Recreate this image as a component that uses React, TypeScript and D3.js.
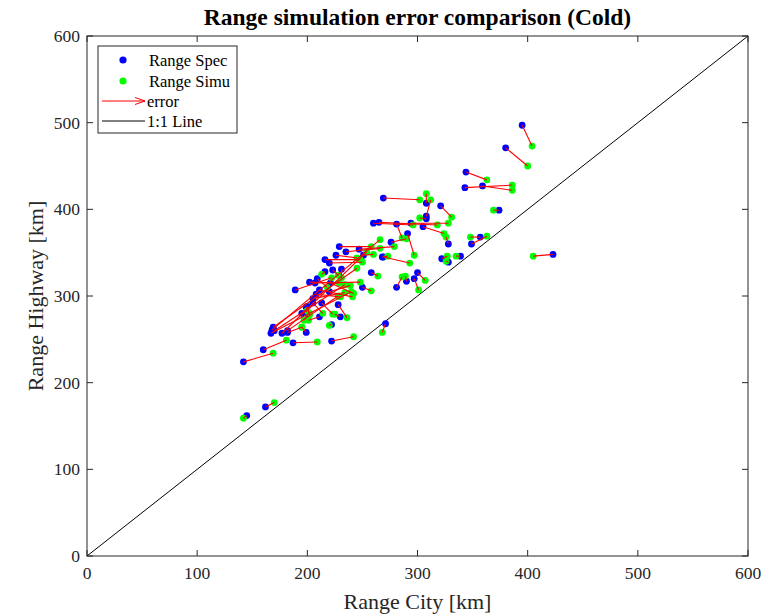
import React from 'react';
import * as d3 from 'd3';

// spec (blue) -> simu (green), km
const specCity = [395, 380, 344, 343, 359, 374, 321, 269, 308, 308, 308, 260, 265, 294, 281, 305, 328, 291, 276, 357, 349, 423, 322, 328, 339, 269, 300, 290, 281, 297, 250, 258, 229, 235, 247, 251, 226, 268, 216, 220, 223, 231, 216, 202, 207, 221, 209, 211, 208, 205, 220, 189, 199, 205, 213, 228, 195, 211, 230, 199, 222, 200, 201, 167, 169, 170, 177, 182, 168, 160, 142, 187, 222, 162, 145, 271, 182];
const specHwy = [497, 471, 443, 425, 427, 399, 404, 413, 407, 392, 389, 384, 385, 384, 383, 380, 360, 372, 362, 368, 360, 348, 343, 339, 346, 345, 327, 317, 310, 320, 310, 327, 357, 351, 354, 347, 347, 345, 342, 338, 330, 331, 328, 316, 315, 315, 320, 307, 302, 297, 305, 307, 287, 292, 292, 290, 280, 276, 276, 258, 267, 288, 278, 257, 264, 260, 257, 260, 261, 238, 224, 246, 248, 172, 162, 268, 258];
const simuCity = [404, 400, 363, 386, 386, 369, 331, 302, 308, 312, 302, 296, 318, 328, 286, 324, 326, 297, 290, 348, 363, 405, 327, 326, 335, 293, 307, 289, 286, 301, 258, 264, 258, 266, 279, 260, 245, 273, 248, 250, 228, 231, 213, 229, 248, 242, 218, 241, 230, 234, 239, 222, 202, 214, 223, 236, 200, 201, 225, 195, 220, 202, 197, 240, 245, 234, 254, 228, 266, 181, 169, 209, 242, 170, 142, 268, 195];
const simuHwy = [473, 450, 434, 428, 422, 399, 391, 411, 418, 411, 390, 382, 382, 384, 367, 372, 368, 347, 366, 368, 369, 346, 346, 340, 346, 338, 318, 323, 322, 307, 306, 323, 357, 355, 357, 348, 344, 346, 342, 339, 324, 321, 325, 315, 316, 303, 310, 299, 299, 304, 312, 321, 280, 280, 279, 275, 283, 272, 279, 264, 266, 278, 272, 305, 332, 313, 351, 300, 365, 249, 234, 247, 253, 177, 159, 258, 264];
const ticks = [0, 100, 200, 300, 400, 500, 600];

const W = 783;
const H = 614;
const left = 87;
const right = 748;
const top = 36;
const bottom = 556;
const axisColor = '#262626';
const font = '"Liberation Serif", "Times New Roman", serif';

const App = () => {
  const x = d3.scaleLinear().domain([0, 600]).range([left, right]);
  const y = d3.scaleLinear().domain([0, 600]).range([bottom, top]);
  const idx = d3.range(specCity.length);
  const tl = 6;

  return (
    <svg width={W} height={H} style={{ position: 'absolute', left: 0, top: 0, background: '#fff' }}>
      <rect x={0} y={0} width={W} height={H} fill="#fff" />
      <text x={(left + right) / 2} y={25} textAnchor="middle" fontFamily={font} fontWeight="bold" fontSize={23.5} fill="#000">
        Range simulation error comparison (Cold)
      </text>

      {/* 1:1 line */}
      <line x1={x(0)} y1={y(0)} x2={x(600)} y2={y(600)} stroke="#000" strokeWidth={1} />

      {/* spec points */}
      {idx.map((i) => (
        <circle key={`b${i}`} cx={x(specCity[i])} cy={y(specHwy[i])} r={3.4} fill="#0000ff" />
      ))}
      {/* simu points */}
      {idx.map((i) => (
        <circle key={`g${i}`} cx={x(simuCity[i])} cy={y(simuHwy[i])} r={3.4} fill="#00ff00" />
      ))}
      {/* error lines */}
      {idx.map((i) => (
        <line
          key={`e${i}`}
          x1={x(specCity[i])}
          y1={y(specHwy[i])}
          x2={x(simuCity[i])}
          y2={y(simuHwy[i])}
          stroke="#ff0000"
          strokeWidth={1.1}
        />
      ))}

      {/* axes box */}
      <rect x={left} y={top} width={right - left} height={bottom - top} fill="none" stroke={axisColor} strokeWidth={1} />
      {ticks.map((t) => (
        <g key={`xt${t}`}>
          <line x1={x(t)} x2={x(t)} y1={bottom} y2={bottom - tl} stroke={axisColor} />
          <line x1={x(t)} x2={x(t)} y1={top} y2={top + tl} stroke={axisColor} />
          <text x={x(t)} y={bottom + 23} textAnchor="middle" fontFamily={font} fontSize={17.5} fill={axisColor}>
            {t}
          </text>
        </g>
      ))}
      {ticks.map((t) => (
        <g key={`yt${t}`}>
          <line x1={left} x2={left + tl} y1={y(t)} y2={y(t)} stroke={axisColor} />
          <line x1={right} x2={right - tl} y1={y(t)} y2={y(t)} stroke={axisColor} />
          <text x={left - 7} y={y(t) + 6} textAnchor="end" fontFamily={font} fontSize={17.5} fill={axisColor}>
            {t}
          </text>
        </g>
      ))}
      <text x={(left + right) / 2} y={609} textAnchor="middle" fontFamily={font} fontSize={22} fill={axisColor}>
        Range City [km]
      </text>
      <text
        transform={`translate(43 ${(top + bottom) / 2}) rotate(-90)`}
        textAnchor="middle"
        fontFamily={font}
        fontSize={22}
        fill={axisColor}
      >
        Range Highway [km]
      </text>

      {/* legend */}
      <g fontFamily={font} fontSize={16.5} fill="#000">
        <rect x={98} y={46} width={139} height={87} fill="#fff" stroke={axisColor} strokeWidth={1} />
        <circle cx={123} cy={60} r={3.6} fill="#0000ff" />
        <text x={149} y={66}>Range Spec</text>
        <circle cx={123} cy={81} r={3.6} fill="#00ff00" />
        <text x={149} y={87}>Range Simu</text>
        <line x1={102} y1={101} x2={145} y2={101} stroke="#ff0000" strokeWidth={1} />
        <path d="M135,97.5 L145,101 L135,104.5" fill="none" stroke="#ff0000" strokeWidth={1} />
        <text x={147} y={107}>error</text>
        <line x1={102} y1={121} x2={145} y2={121} stroke="#000" strokeWidth={1} />
        <text x={147} y={127}>1:1 Line</text>
      </g>
    </svg>
  );
};

export default App;
